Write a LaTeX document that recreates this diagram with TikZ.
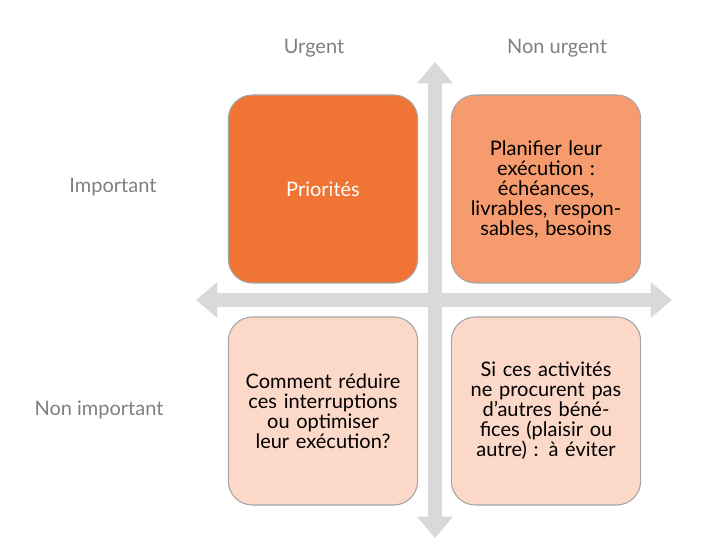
\documentclass[tikz,border=0pt]{standalone}
\usepackage{fontspec}
\setmainfont{Lato}
\usetikzlibrary{arrows.meta, positioning}
\definecolor{axisgray}{HTML}{D9D9D9}
\definecolor{labelgray}{HTML}{7F7F7F}
\definecolor{edgegray}{HTML}{A6A6A6}
\definecolor{prio}{HTML}{F07535}
\definecolor{plan}{HTML}{F59B6D}
\definecolor{light}{HTML}{FBD8C8}
\tikzset{
  quad/.style={draw=edgegray, line width=0.8pt, rounded corners=18pt,
    minimum width=142pt, minimum height=141pt, align=center,
    text width=125pt, font=\fontsize{15}{15}\selectfont},
  head/.style={text=labelgray, font=\fontsize{15}{18}\selectfont},
  axis/.style={axisgray, line width=10pt, {Triangle[length=16pt,width=26pt]}-{Triangle[length=16pt,width=26pt]}}
}
\begin{document}
\begin{tikzpicture}[x=0.75pt, y=-0.75pt]
    \useasboundingbox (0,0) rectangle (714,548);

    % Axes
    \coordinate (top) at (435,62);
    \coordinate (bottom) at (435,538);
    \coordinate (left) at (196,300);
    \coordinate (right) at (672,300);
    \draw[axis] (top) -- (bottom);
    \draw[axis] (left) -- (right);

    % Quadrants
    \node[quad, fill=prio, text=white] (prio) at (323,189) {Priorités};
    \node[quad, fill=plan] (plan) at (546,189) {Planifier leur exécution : échéances, livrables, responsables, besoins};
    \node[quad, fill=light] (reduce) at (323,411) {Comment réduire ces interruptions ou optimiser leur exécution?};
    \node[quad, fill=light] (avoid) at (546,411) {Si ces activités ne procurent pas d’autres bénéfices (plaisir ou autre) : à éviter};

    % Headings
    \node[head] (urg) at (314,48) {Urgent};
    \node[head] (nurg) at (557,48) {Non urgent};
    \node[head] (imp) at (113,187) {Important};
    \node[head] (nimp) at (99,410) {Non important};
\end{tikzpicture}
\end{document}
